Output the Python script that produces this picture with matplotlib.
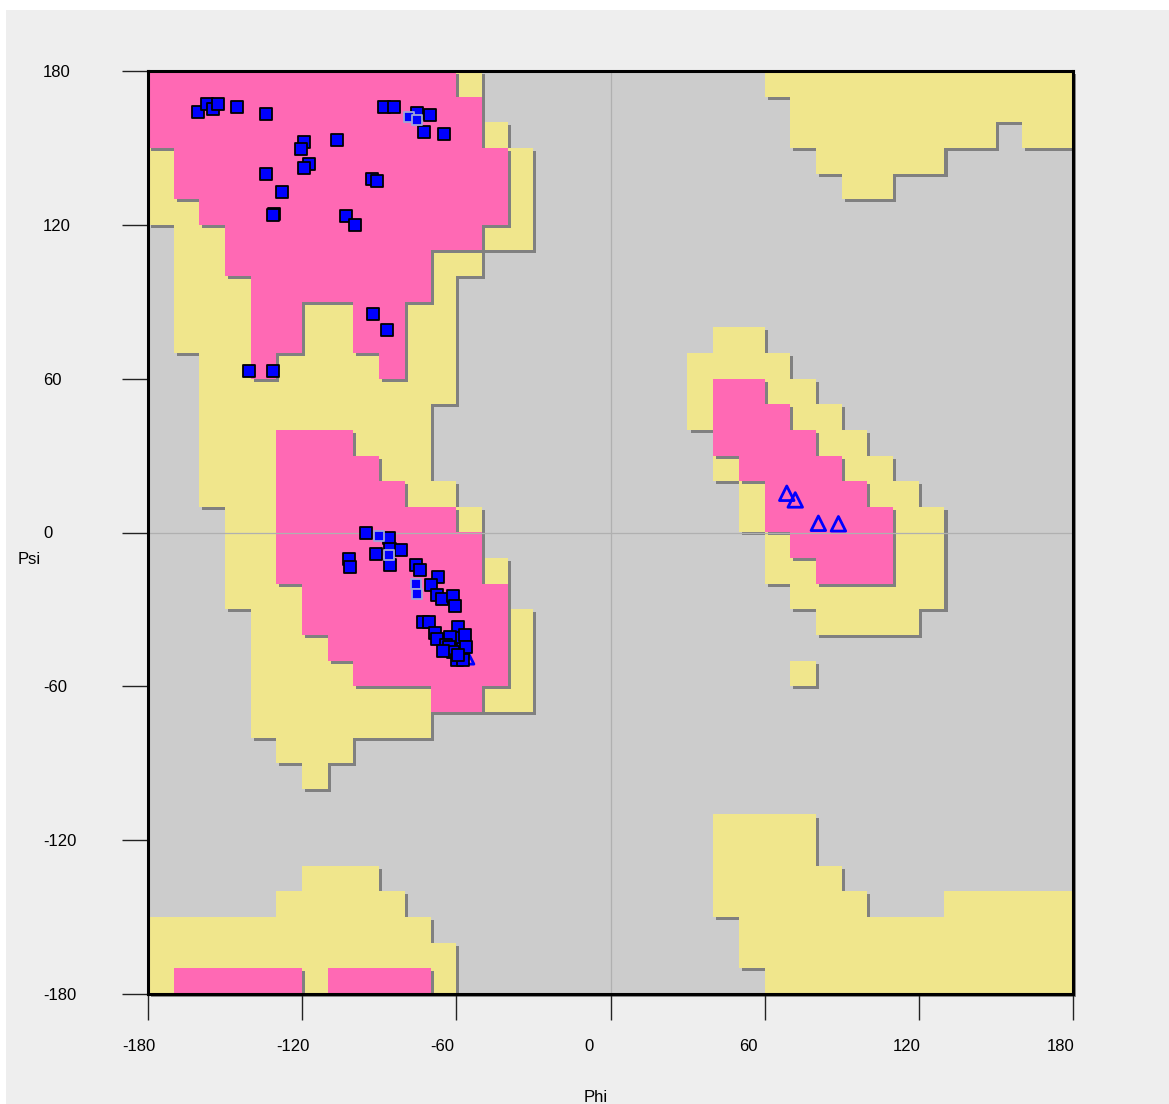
import numpy as np
import matplotlib.pyplot as plt
from matplotlib.colors import ListedColormap
from matplotlib.patches import Rectangle
from matplotlib.transforms import ScaledTranslation

# 10 degree cells, first row is psi 180..170, first column phi -180..-170
# 0 = disallowed, 1 = allowed, 2 = favoured
REGION_ROWS = [
    "222222222222100000000000111111111111",
    "222222222222200000000000011111111111",
    "222222222222210000000000011111111011",
    "122222222222221000000000001111100000",
    "122222222222221000000000000110000000",
    "112222222222221000000000000000000000",
    "011222222222211000000000000000000000",
    "011222222221100000000000000000000000",
    "011122222221000000000000000000000000",
    "011122112211000000000000000000000000",
    "011122112211000000000011000000000000",
    "001121111211000000000111100000000000",
    "001111111111000000000122110000000000",
    "001111111110000000000122211000000000",
    "001112221110000000000022221100000000",
    "001112222110000000000012222110000000",
    "001112222211000000000001222211000000",
    "000112222222100000000001222221100000",
    "000112222222200000000000122221100000",
    "000112222222210000000000112221100000",
    "000111222222220000000000011111100000",
    "000011222222221000000000001111000000",
    "000011122222221000000000000000000000",
    "000011112222221000000000010000000000",
    "000011111112211000000000000000000000",
    "000011111110000000000000000000000000",
    "000001110000000000000000000000000000",
    "000000100000000000000000000000000000",
    "000000000000000000000000000000000000",
    "000000000000000000000011110000000000",
    "000000000000000000000011110000000000",
    "000000111000000000000011111000000000",
    "000001111100000000000011111100011111",
    "111111111110000000000001111111111111",
    "111111111111000000000001111111111111",
    "122222122221000000000000111111111111",
]

# residues (non glycine)
phi_res = [-160.4, -157.2, -154.6, -152.6, -145.2, -134.2, -88.0, -84.1, -75.2, -70.2,
           -72.7, -64.7, -119.4, -120.4, -106.3, -117.4, -119.2, -134.2, -128.0, -92.9,
           -90.7, -130.8, -131.5, -102.8, -99.4, -92.4, -86.8, -140.6, -131.3,
           -95.3, -86.2, -85.8, -81.5, -91.4, -85.8, -101.9, -101.3, -75.7, -74.1,
           -67.0, -69.7, -67.4, -65.7, -61.3, -60.6, -72.8, -70.5, -68.3, -67.6,
           -59.2, -60.1, -56.6, -62.4, -64.0, -62.9, -57.3, -56.2, -61.2, -59.6,
           -57.3, -65.1, -59.2]
psi_res = [163.9, 167.1, 165.2, 167.1, 166.1, 163.1, 166.1, 166.1, 163.5, 162.8,
           156.1, 155.6, 152.2, 149.5, 153.0, 143.7, 142.0, 139.7, 132.7, 137.8,
           137.1, 124.3, 123.8, 123.6, 119.9, 85.1, 79.0, 63.1, 63.1,
           -0.1, -2.3, -6.6, -6.8, -8.4, -12.8, -10.3, -13.3, -12.8, -14.8,
           -17.5, -20.5, -24.4, -25.9, -24.6, -28.5, -34.8, -34.8, -39.3, -41.6,
           -37.0, -41.3, -40.0, -40.6, -43.9, -44.5, -45.5, -44.8, -46.5, -49.7,
           -49.7, -46.2, -47.8]

# highlighted residues
phi_hl = [-78.5, -75.2, -90.2, -86.3, -75.6, -75.2]
psi_hl = [162.2, 160.9, -1.4, -8.9, -20.2, -24.0]

# glycines
phi_gly = [68.6, 71.9, 80.9, 88.7, -56.0]
psi_gly = [15.3, 12.7, 3.6, 3.4, -48.5]

ticks = [-180, -120, -60, 0, 60, 120, 180]
tick_labels = ["-180", "-120", "-60", "0", "60", "120", "180"]

plt.rcParams['font.family'] = ['Liberation Sans', 'DejaVu Sans']

W, H = 1169, 1104
fig = plt.figure(figsize=(W / 100, H / 100), dpi=100, facecolor="white")
fig.patches.append(Rectangle((6 / W, 0), 1, 1 - 10 / H, transform=fig.transFigure,
                             facecolor="#eeeeee", edgecolor="none", zorder=-10))
ax_rect = [148 / W, 1 - 994 / H, 925 / W, 923 / H]
# frame shadow
fig.patches.append(Rectangle((ax_rect[0] + 3 / W, ax_rect[1] - 3 / H), ax_rect[2], ax_rect[3],
                             transform=fig.transFigure, facecolor="#8a8a8a",
                             edgecolor="none", zorder=-5))
ax = fig.add_axes(ax_rect)
ax.set_facecolor("#cccccc")

for row in REGION_ROWS:
    assert len(row) == 36, row
grid = np.array([[int(c) for c in row] for row in REGION_ROWS])


def layer(mask, color, shift, z):
    data = np.ma.masked_where(~mask, np.ones(grid.shape))
    ax.imshow(data, cmap=ListedColormap([color]), vmin=0, vmax=1,
              extent=[-180 + shift, 180 + shift, -180 - shift, 180 - shift],
              origin="upper", interpolation="nearest", aspect="auto", zorder=z)


sh = 1.2
layer(grid >= 1, "#808080", sh, 1)
layer(grid >= 1, "#f0e68c", 0, 2)
layer(grid == 2, "#808080", sh, 3)
layer(grid == 2, "#ff69b4", 0, 4)

ax.axhline(0, color="#b0b0b0", lw=0.9, zorder=5)
ax.axvline(0, color="#b0b0b0", lw=0.9, zorder=5)

ax.scatter(phi_gly, psi_gly, marker="^", s=110, facecolor="none",
           edgecolor="#0000ff", linewidths=2.0, zorder=5.5)
ax.scatter(phi_res, psi_res, marker="s", s=66, facecolor="#0000ff",
           edgecolor="black", linewidths=1.3, zorder=6)
ax.scatter(phi_hl, psi_hl, marker="s", s=62, facecolor="#0000ff",
           edgecolor="#a0a6d6", linewidths=1.3, zorder=7)

ax.set_xlim(-180, 180)
ax.set_ylim(-180, 180)
for sp in ax.spines.values():
    sp.set_linewidth(2.2)
    sp.set_color("black")
    sp.set_zorder(10)

ax.set_xticks(ticks)
ax.set_yticks(ticks)
ax.tick_params(axis="both", direction="out", length=26 * 0.72, width=1.0,
               color="#222222", labelsize=12)
ax.tick_params(axis="x", pad=14)
ax.tick_params(axis="y", pad=79 * 0.72)
ax.set_xticklabels(tick_labels, ha="left")
ax.set_yticklabels(tick_labels, ha="left")
shift = ScaledTranslation(-26 / 100, 0, fig.dpi_scale_trans)
for lab in ax.get_xticklabels():
    lab.set_transform(lab.get_transform() + shift)

fig.text(18 / W, 1 - 559 / H, "Psi", fontsize=12, ha="left", va="center")
fig.text(596 / W, 1 - 1098 / H, "Phi", fontsize=12, ha="center", va="center")

fig.savefig("out.png", dpi=100, facecolor="white")
